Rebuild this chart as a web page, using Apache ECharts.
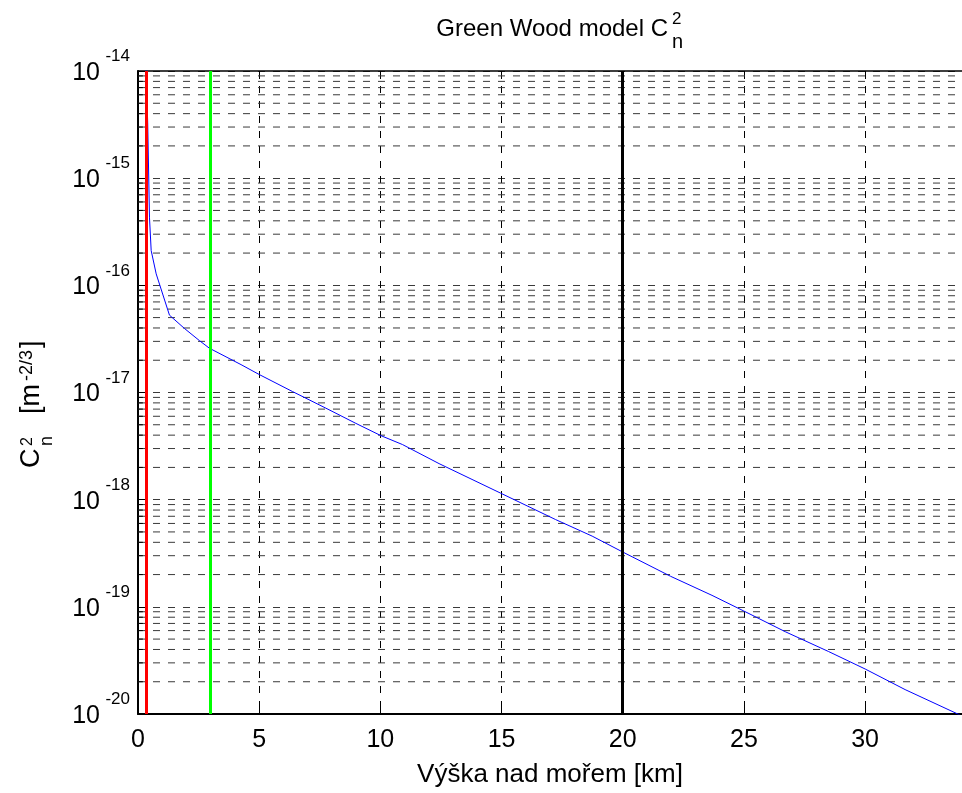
<!DOCTYPE html>
<html><head><meta charset="utf-8">
<script src="https://cdn.jsdelivr.net/npm/echarts@6/dist/echarts.min.js"></script>
<style>html,body{margin:0;padding:0;background:#fff}#c{width:962px;height:793px}</style>
</head><body><div id="c"></div>
<script>
// ---- data ----
const heightKm = [0.33, 0.40, 0.474, 0.544, 0.75, 1.298, 1.916, 2.534, 2.946, 4.252, 5.006, 6.378, 7.754, 8.99, 10.021, 10.911, 12.423, 14.965, 17.231, 18.739, 20.045, 21.97, 23.684, 24.99, 26.708, 28.492, 30.004, 31.652, 33.93];
const cn2 = [1.1e-14, 3.3e-15, 4.26e-16, 2.11e-16, 1.28e-16, 5.27e-17, 3.96e-17, 3.05e-17, 2.59e-17, 1.82e-17, 1.47e-17, 1.02e-17, 7.14e-18, 5.15e-18, 3.96e-18, 3.27e-18, 2.17e-18, 1.15e-18, 6.52e-19, 4.57e-19, 3.21e-19, 1.93e-19, 1.28e-19, 9.16e-20, 5.86e-20, 3.83e-20, 2.63e-20, 1.69e-20, 9.75e-21];
const markerHeights = [0.33, 3, 20];
const markerColors = ['#ff0000', '#00ff00', '#000000'];
const xTickLabels = ['0', '5', '10', '15', '20', '25', '30'];
const yDecadeExponents = [-20, -19, -18, -17, -16, -15, -14];
const minorMultipliers = [2, 3, 4, 5, 6, 7, 8, 9];

const X_MIN = 0, X_MAX = 34;
const minorValues = [];
yDecadeExponents.slice(0, -1).forEach(e => minorMultipliers.forEach(m => minorValues.push(Number(m + 'e' + e))));

const FONT = "'Liberation Sans', Arial, Helvetica, sans-serif";
const dash = [7, 8];
const gridColor = '#3a3a3a';

const minorGridSeries = minorValues.map(v => ({
  type: 'line', data: [[X_MIN, v], [X_MAX, v]], symbol: 'none', silent: true, z: 1,
  lineStyle: {color: gridColor, type: dash, width: 1}
}));
const minorTickSeries = minorValues.map(v => ({
  type: 'line', data: [[X_MIN, v], [X_MIN + 0.2, v]], symbol: 'none', silent: true, z: 6,
  lineStyle: {color: '#000', type: 'solid', width: 1}
}));

const chart = echarts.init(document.getElementById('c'), null, {renderer: 'canvas'});
chart.setOption({
  animation: false,
  backgroundColor: '#fff',
  grid: {left: 138, top: 71, right: -2, bottom: 72, containLabel: false},
  xAxis: [{
    type: 'value', min: X_MIN, max: X_MAX, interval: 5,
    axisLine: {show: true, onZero: false, lineStyle: {color: '#000', width: 2}},
    axisTick: {show: true, inside: true, length: 8, lineStyle: {color: '#000'}},
    axisLabel: {show: true, margin: 14, fontSize: 25, color: '#000', fontFamily: FONT, showMaxLabel: false,
      formatter: v => xTickLabels[Math.round(v / 5)] ?? ''},
    splitLine: {show: true, lineStyle: {color: '#000', type: dash, width: 1}},
    name: 'Výška nad mořem [km]', nameLocation: 'middle', nameGap: 48,
    nameTextStyle: {fontSize: 26, color: '#000', fontFamily: FONT}
  }, {
    type: 'value', min: X_MIN, max: X_MAX, interval: 5, position: 'top',
    axisLine: {show: true, onZero: false, lineStyle: {color: '#000', width: 1.5}},
    axisTick: {show: true, inside: true, length: 8, lineStyle: {color: '#000'}},
    axisLabel: {show: false}, splitLine: {show: false}
  }],
  yAxis: [{
    type: 'log', logBase: 10, min: 1e-20, max: 1e-14, splitNumber: 6,
    axisLine: {show: true, onZero: false, lineStyle: {color: '#000', width: 2}},
    axisTick: {show: true, inside: true, length: 8, lineStyle: {color: '#000'}},
    axisLabel: {
      show: true, margin: 8, padding: [0, 0, 6, 0], color: '#000', align: 'right',
      formatter: v => '{s|' + Math.round(Math.log10(v)) + '}\n{b|10}',
      rich: {
        s: {fontSize: 17, lineHeight: 10, fontFamily: FONT, color: '#000', align: 'right'},
        b: {fontSize: 25, lineHeight: 23, padding: [0, 30, 0, 0], fontFamily: FONT, color: '#000', align: 'right'}
      }
    },
    splitLine: {show: true, lineStyle: {color: gridColor, type: dash, width: 1}}
  }],
  series: [
    ...minorGridSeries,
    {
      type: 'line', name: 'Cn2', data: heightKm.map((h, i) => [h, cn2[i]]),
      showSymbol: false, symbol: 'none', lineStyle: {color: '#0000ff', width: 1}, z: 3, clip: true
    },
    ...minorTickSeries,
    {
      type: 'line', data: [], silent: true, z: 5,
      markLine: {
        silent: true, symbol: ['none', 'none'], label: {show: false}, animation: false,
        data: markerHeights.map((h, i) => ({xAxis: h, lineStyle: {color: markerColors[i], type: 'solid', width: 3}}))
      }
    }
  ],
  graphic: [
    {type: 'text', x: 668, y: 29, style: {text: 'Green Wood model C', font: '24px ' + FONT, fill: '#000', align: 'right', verticalAlign: 'middle'}},
    {type: 'text', x: 672, y: 19, style: {text: '2', font: '17px ' + FONT, fill: '#000', align: 'left', verticalAlign: 'middle'}},
    {type: 'text', x: 672, y: 42, style: {text: 'n', font: '20px ' + FONT, fill: '#000', align: 'left', verticalAlign: 'middle'}},
    {type: 'group', x: 32, y: 468, rotation: Math.PI / 2, children: [
      {type: 'text', x: 0, y: 0, style: {text: 'C', font: '27px ' + FONT, fill: '#000', align: 'left', verticalAlign: 'middle'}},
      {type: 'text', x: 22, y: -4, style: {text: '2', font: '16px ' + FONT, fill: '#000', align: 'left', verticalAlign: 'middle'}},
      {type: 'text', x: 22, y: 15, style: {text: 'n', font: '18px ' + FONT, fill: '#000', align: 'left', verticalAlign: 'middle'}},
      {type: 'text', x: 54, y: 0, style: {text: '[m', font: '27px ' + FONT, fill: '#000', align: 'left', verticalAlign: 'middle'}},
      {type: 'text', x: 87, y: -5, style: {text: '-2/3', font: '18px ' + FONT, fill: '#000', align: 'left', verticalAlign: 'middle'}},
      {type: 'text', x: 120, y: 0, style: {text: ']', font: '27px ' + FONT, fill: '#000', align: 'left', verticalAlign: 'middle'}}
    ]}
  ]
});
</script></body></html>
